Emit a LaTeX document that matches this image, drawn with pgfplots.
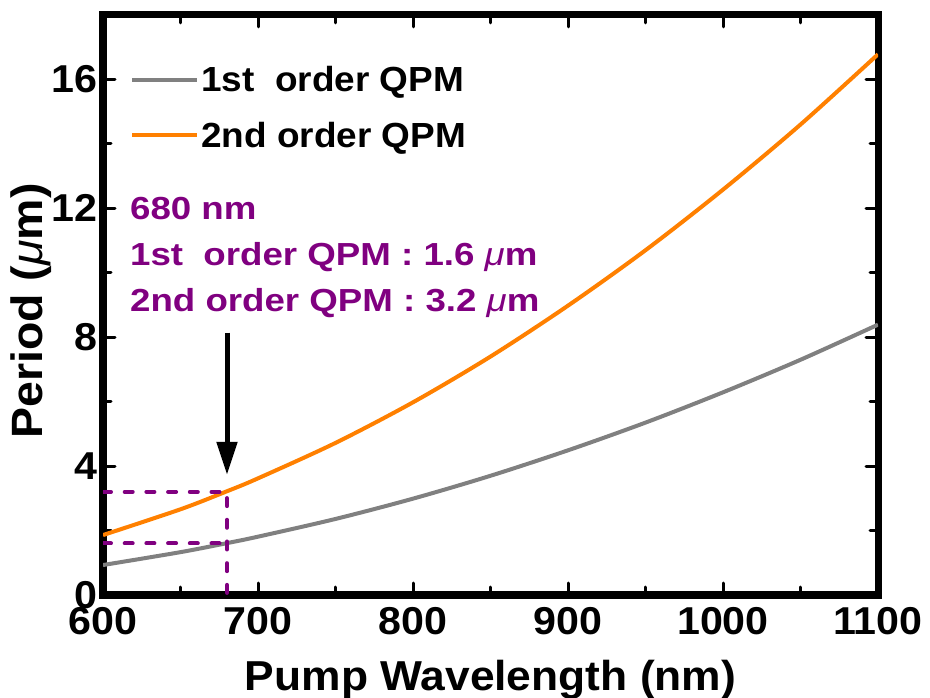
\documentclass[border=0pt]{standalone}
\usepackage{fontspec}
\setmainfont{Liberation Sans}[FakeStretch=1.06]
\newfontfamily\annfamily{Liberation Sans}[FakeStretch=1.15]
\usepackage{pgfplots}
\pgfplotsset{compat=1.18}
\usetikzlibrary{arrows.meta}
\definecolor{cgray}{RGB}{128,128,128}
\definecolor{corange}{RGB}{255,128,0}
\definecolor{cpurple}{RGB}{128,0,128}
\newcommand{\tickfont}{\fontsize{39}{42}\selectfont\bfseries}
\newcommand{\xlabfont}{\fontsize{42}{46}\selectfont\bfseries}
\newcommand{\ylabfont}{\fontsize{44}{48}\selectfont\bfseries}
\newcommand{\legfont}{\fontsize{35}{40}\selectfont\bfseries}
\newcommand{\annfont}{\annfamily\fontsize{32}{36}\selectfont\bfseries}
\begin{document}
\begin{tikzpicture}
\useasboundingbox (0,0) rectangle (930bp,698bp);
\begin{axis}[
  at={(103bp,103bp)}, anchor=south west,
  scale only axis, width=775bp, height=580bp,
  xmin=600, xmax=1100, ymin=0, ymax=18,
  xtick={600,700,800,900,1000,1100},
  ytick={0,4,8,12,16},
  minor x tick num=1, minor y tick num=1,
  tick align=inside,
  major tick length=12bp, minor tick length=8bp,
  every tick/.style={black, line width=3bp, line cap=round},
  axis line style={line width=7bp},
  /pgf/number format/assume math mode=true,
  /pgf/number format/1000 sep={},
  ticklabel style={font=\tickfont},
  xticklabel style={yshift=-9bp},
  yticklabel style={xshift=-2bp},
  xlabel={Pump Wavelength (nm)},
  ylabel={Period ({\mdseries\itshape μ}m)},
  xlabel style={font=\xlabfont, at={(axis description cs:0.5,-0.1638)}, anchor=base},
  ylabel style={font=\ylabfont, at={(axis description cs:-0.0929,0.4897)}, anchor=center},
  legend style={at={(axis description cs:0.0348,0.8405)}, anchor=west,
    draw=none, fill=none, inner sep=0pt, font=\legfont,
    row sep=25bp, nodes={inner sep=2bp}},
  legend cell align=left,
  legend image code/.code={\draw[#1, line width=4bp] (0bp,0bp) -- (65bp,0bp);},
]
\addplot[cgray, line width=4bp, smooth] coordinates {
(600,0.93)(650,1.33)(680,1.61)(700,1.81)(750,2.36)(800,2.99)(850,3.70)(900,4.49)(950,5.35)(1000,6.29)(1050,7.30)(1100,8.39)};
\addlegendentry{1st\ \ order QPM}
\addplot[corange, line width=4bp, smooth] coordinates {
(600,1.86)(650,2.66)(680,3.22)(700,3.62)(750,4.72)(800,5.98)(850,7.40)(900,8.98)(950,10.70)(1000,12.58)(1050,14.60)(1100,16.78)};
\addlegendentry{2nd order QPM}
\addplot[cpurple, line width=4bp, line cap=round, dash pattern=on 8bp off 13.7bp, forget plot] coordinates {(600,3.2)(680,3.2)(680,0)};
\addplot[cpurple, line width=4bp, line cap=round, dash pattern=on 8bp off 13.7bp, forget plot] coordinates {(600,1.6)(680,1.6)};
\draw[-{Triangle[length=33bp,width=20bp]}, line width=5bp, black] (axis cs:680,8.14) -- (axis cs:680,3.73);
\node[anchor=base west, inner sep=0pt, text=cpurple, font=\annfont] at (axis cs:617.4,11.65) {680 nm};
\node[anchor=base west, inner sep=0pt, text=cpurple, font=\annfont] at (axis cs:617.4,10.22) {1st\ \ order QPM : 1.6 {\mdseries\itshape μ}m};
\node[anchor=base west, inner sep=0pt, text=cpurple, font=\annfont] at (axis cs:617.4,8.80) {2nd order QPM : 3.2 {\mdseries\itshape μ}m};
\end{axis}
\end{tikzpicture}
\end{document}
